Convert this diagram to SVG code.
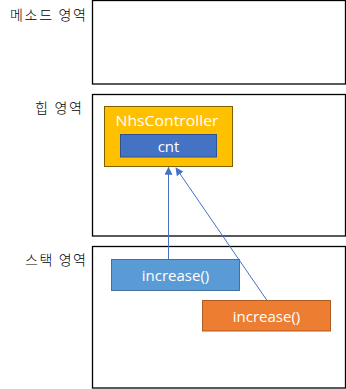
<svg xmlns="http://www.w3.org/2000/svg" width="346" height="389" viewBox="0 0 346 389">
<defs>
<marker id="ah" viewBox="0 0 10 10" refX="9" refY="5" markerWidth="8" markerHeight="8" markerUnits="userSpaceOnUse" orient="auto">
<path d="M0,0 L10,5 L0,10 z" fill="#4472C4"/>
</marker>
<style>
.area{fill:#fff;stroke:#000;stroke-width:1.3}
.lbl{font-family:"Noto Sans CJK KR","Noto Sans",sans-serif;font-size:14px;font-weight:300;fill:#000;text-anchor:end}
.nt{font-family:"Open Sans","Liberation Sans",sans-serif;font-size:15px;fill:#fff;text-anchor:middle}
.conn{stroke:#4472C4;stroke-width:1;fill:none;marker-end:url(#ah)}
</style>
</defs>
<g id="method-area">
<rect class="area" x="92.5" y="0.5" width="253" height="83.5"/>
<text class="lbl" x="86" y="19.5" textLength="76" lengthAdjust="spacing">메소드 영역</text>
</g>
<g id="heap-area">
<rect class="area" x="92.5" y="94.5" width="253" height="141.5"/>
<text class="lbl" x="82" y="112.5" textLength="47" lengthAdjust="spacing">힙 영역</text>
</g>
<g id="stack-area">
<rect class="area" x="92.5" y="246.5" width="253" height="141.5"/>
<text class="lbl" x="86" y="265" textLength="61" lengthAdjust="spacing">스택 영역</text>
</g>
<g id="nhscontroller">
<rect x="104.5" y="106.5" width="128" height="60" fill="#FFC000" stroke="#7F6000" stroke-width="1"/>
<text class="nt" x="167" y="126" textLength="103" lengthAdjust="spacingAndGlyphs">NhsController</text>
</g>
<g id="cnt">
<rect x="120.5" y="134.5" width="96" height="22.5" fill="#4472C4" stroke="#2F528F" stroke-width="1"/>
<text class="nt" x="168.5" y="151.5">cnt</text>
</g>
<g id="increase-blue">
<rect x="111.5" y="259.5" width="128" height="31" fill="#5B9BD5" stroke="#41719C" stroke-width="1"/>
<text class="nt" x="175.5" y="281">increase()</text>
</g>
<g id="increase-orange">
<rect x="202.5" y="300.5" width="128" height="30.5" fill="#ED7D31" stroke="#AE5A21" stroke-width="1"/>
<text class="nt" x="266.5" y="322">increase()</text>
</g>
<g id="connectors">
<line class="conn" x1="168.5" y1="259" x2="168.5" y2="167.5"/>
<line class="conn" x1="266.7" y1="300" x2="176" y2="168"/>
</g>
</svg>
